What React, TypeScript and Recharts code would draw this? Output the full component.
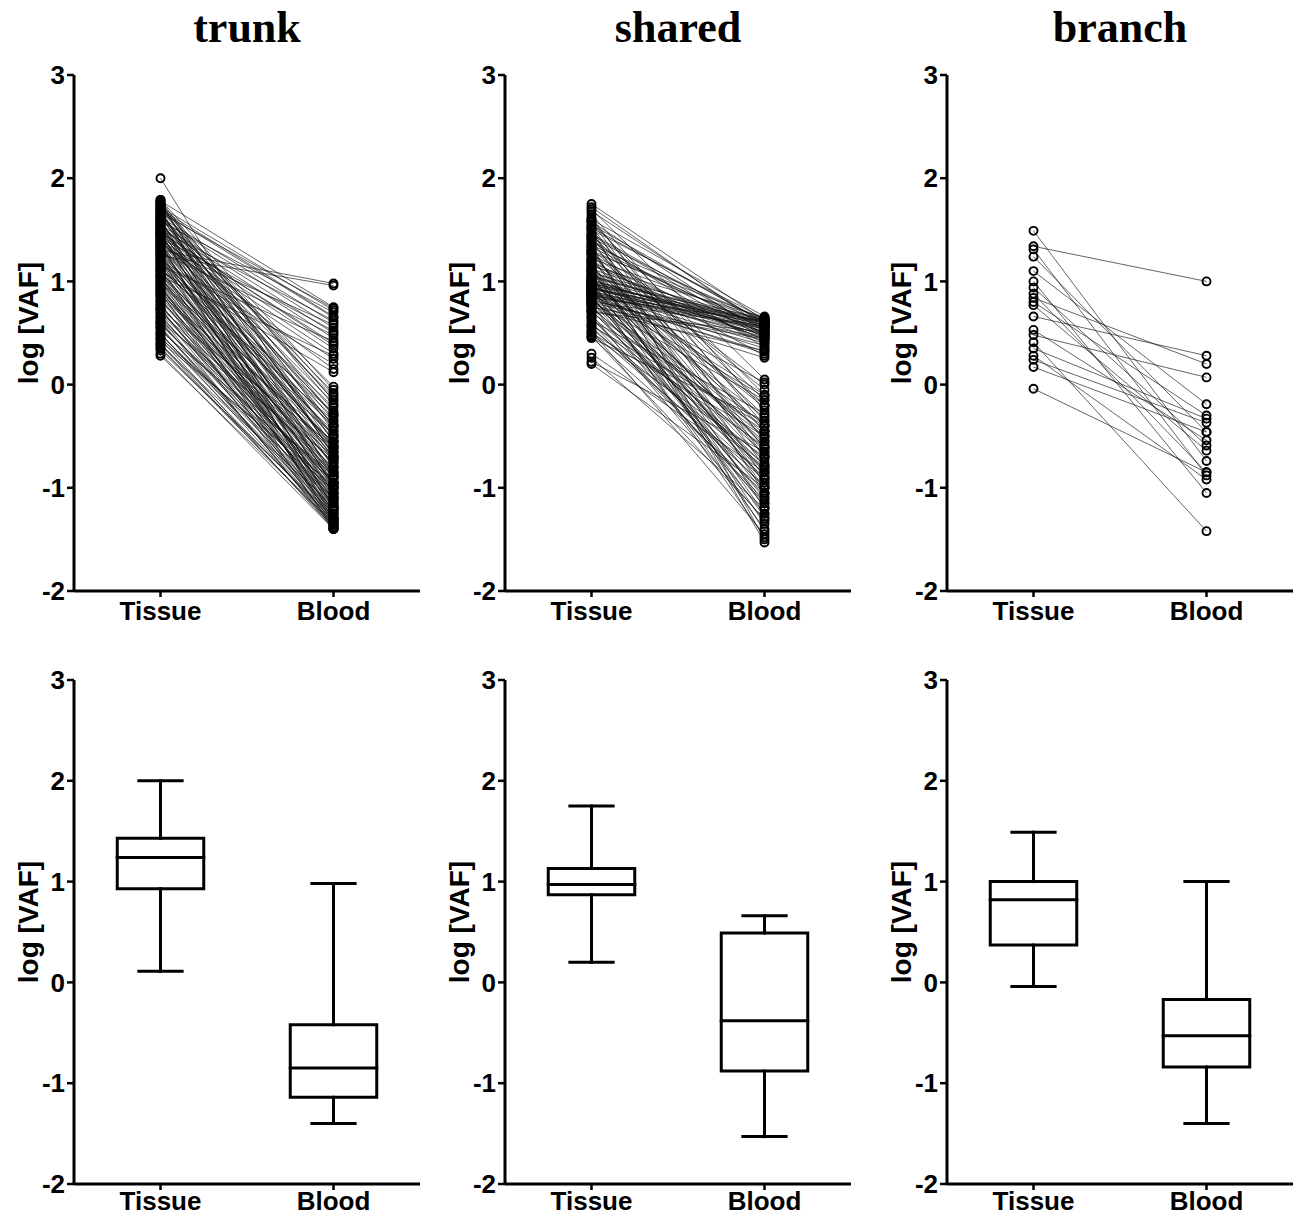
import { ComposedChart, Line, XAxis, YAxis } from 'recharts';

const GROUPS = ['Tissue', 'Blood'];
const PANEL_TITLES = ['trunk', 'shared', 'branch'];
const Y_TICKS = [-2, -1, 0, 1, 2, 3];

// paired log[VAF] values, tissue[i] -> blood[i]
const trunkTissue = [
  1.30, 1.25, 1.78, 1.72, 1.70, 1.66, 1.62, 1.60, 1.58, 1.55, 1.52, 1.50, 1.47,
  1.45, 1.42, 1.40, 1.36, 1.33, 1.20, 1.15, 1.10, 1.05, 1.68, 1.48, 1.38, 1.28,
  2.00, 1.79, 1.77, 1.76, 1.74, 1.73, 1.71, 1.69, 1.67, 1.65,
  1.64, 1.63, 1.61, 1.59, 1.57, 1.56, 1.54, 1.53, 1.51, 1.49,
  1.46, 1.44, 1.43, 1.41, 1.39, 1.37, 1.35, 1.34, 1.32, 1.31,
  1.29, 1.27, 1.26, 1.24, 1.22, 1.21, 1.19, 1.18, 1.16, 1.14,
  1.13, 1.11, 1.09, 1.08, 1.06, 1.04, 1.02, 1.00, 0.98, 0.97,
  0.95, 0.93, 0.91, 0.90, 0.88, 0.86, 0.84, 0.82, 0.80, 0.78,
  0.76, 0.74, 0.72, 0.70, 0.68, 0.66, 0.64, 0.62, 0.60, 0.58,
  0.56, 0.54, 0.52, 0.50, 0.48, 0.46, 0.44, 0.42, 0.40, 0.38,
  0.36, 0.33, 0.30, 0.28, 1.58, 1.70, 1.48, 1.62, 1.52, 1.36,
  1.45, 1.23, 1.75, 1.12, 0.99, 0.87, 0.73, 0.61, 1.05, 0.94,
  1.79, 1.76, 1.73, 1.69, 1.66, 1.63, 1.60, 1.57, 1.54, 1.51,
  1.47, 1.44, 1.40, 1.37, 1.33, 1.30, 1.27, 1.24, 1.20, 1.17,
  1.14, 1.10, 1.07, 1.03, 1.00, 0.96, 0.92, 0.89, 0.85, 0.81,
  0.77, 0.73, 0.69, 0.65, 0.59, 0.55, 0.49, 0.45, 0.39, 0.35,
];
const trunkBlood = [
  0.98, 0.96, 0.75, 0.72, 0.66, 0.74, 0.60, 0.55, 0.70, 0.50, 0.45, 0.62, 0.40,
  0.35, 0.52, 0.30, 0.25, 0.58, 0.20, 0.42, 0.12, 0.28, 0.65, 0.38, 0.15, 0.48,
  -0.70, -0.05, -0.20, -0.45, -0.10, -0.60, -0.30, -0.15, -0.80, -0.35,
  -0.08, -0.55, -0.25, -0.95, -0.40, -0.12, -0.65, -0.50, -0.18, -0.75,
  -0.28, -1.05, -0.42, -0.62, -0.22, -0.85, -0.48, -1.12, -0.32, -0.70,
  -0.58, -0.90, -0.38, -1.00, -0.52, -0.78, -0.27, -1.15, -0.66, -0.88,
  -0.45, -1.20, -0.72, -0.95, -0.56, -1.08, -0.82, -1.25, -0.62, -0.98,
  -1.30, -0.76, -1.10, -0.90, -1.18, -0.70, -1.32, -1.02, -0.85, -1.22,
  -0.95, -1.35, -1.12, -0.80, -1.28, -1.05, -0.92, -1.38, -1.15, -1.00,
  -1.30, -1.20, -0.88, -1.35, -1.10, -1.25, -1.40, -0.98, -1.32, -1.18,
  -1.36, -1.28, -1.40, -1.34, -1.25, -1.00, -1.30, -0.02, -1.18, -1.38,
  -0.85, -1.33, -0.68, -0.35, -0.48, -0.55, -0.60, -0.72, -1.40, -1.05,
  -0.55, -0.90, -0.15, -1.10, -0.40, -0.72, -1.20, -0.30, -0.98, -0.62,
  -1.28, -0.50, -0.80, -1.35, -0.60, -0.95, -1.18, -0.70, -1.05, -0.40,
  -1.30, -0.85, -1.12, -0.65, -0.95, -1.22, -0.88, -1.38, -1.00, -0.75,
  -1.15, -1.25, -0.95, -1.40, -1.08, -1.33, -1.22, -1.02, -1.38, -1.30,
];

const sharedTissue = [
  1.75, 1.72, 1.60, 1.58, 1.55, 1.50, 1.46, 1.42, 1.38, 1.35,
  1.30, 1.26, 1.22, 1.18, 1.15, 1.12, 1.10, 1.08, 1.06, 1.04,
  1.02, 1.00, 0.99, 0.98, 0.97, 0.96, 0.95, 0.94, 0.93, 0.92,
  0.91, 0.90, 0.89, 0.88, 0.87, 0.86, 0.85, 0.84, 0.82, 0.80,
  0.78, 0.75, 0.72, 0.70, 1.20, 1.40,
  1.68, 1.52, 1.45, 1.33, 1.28, 1.16, 1.05, 1.01, 0.98, 0.95,
  0.93, 0.90, 0.87, 0.83, 0.79,
  1.70, 1.65, 1.62, 1.57, 1.54, 1.50, 1.48, 1.45, 1.43, 1.40,
  1.37, 1.33, 1.31, 1.28, 1.25, 1.23, 1.20, 1.17, 1.14, 1.13,
  1.11, 1.09, 1.07, 1.05, 1.03, 1.01, 1.00, 0.99, 0.97, 0.96,
  0.94, 0.92, 0.91, 0.89, 0.88, 0.86, 0.84, 0.83, 0.81, 0.79,
  0.77, 0.76, 0.74, 0.72, 0.70, 0.68, 0.66, 0.64, 0.62, 0.60,
  0.58, 0.56, 0.54, 0.52, 0.50, 0.48, 0.46, 0.45, 0.30, 0.26,
  0.22, 0.20, 1.35, 1.52, 1.18, 0.95, 1.60, 1.27, 1.10, 0.80,
  0.90,
  1.58, 1.42, 1.30, 1.21, 1.12, 1.04, 0.97, 0.92, 0.85, 0.78,
  0.71, 0.65, 0.57, 0.51, 0.47,
];
const sharedBlood = [
  0.62, 0.55, 0.66, 0.48, 0.60, 0.64, 0.52, 0.58, 0.45, 0.63,
  0.56, 0.40, 0.61, 0.50, 0.65, 0.57, 0.44, 0.62, 0.53, 0.59,
  0.47, 0.64, 0.55, 0.60, 0.50, 0.63, 0.42, 0.58, 0.52, 0.61,
  0.46, 0.56, 0.35, 0.60, 0.49, 0.54, 0.30, 0.62, 0.38, 0.57,
  0.26, 0.44, 0.33, 0.51, 0.28, 0.36,
  0.58, 0.61, 0.47, 0.54, 0.64, 0.43, 0.60, 0.51, 0.57, 0.48,
  0.62, 0.40, 0.55, 0.32, 0.45,
  0.05, -0.25, -0.55, -0.10, -0.80, -0.35, -1.05, -0.15, -0.62, -0.90,
  -0.45, -1.20, -0.05, -0.70, -0.30, -1.00, -0.52, -0.85, -1.35, -0.20,
  -0.65, -0.95, -0.40, -1.15, -0.75, -0.58, -1.28, -0.32, -0.88, -1.05,
  -0.48, -1.40, -0.68, -0.92, -0.12, -1.18, -0.78, -0.55, -1.08, -0.38,
  -1.25, -0.82, -0.62, -1.00, -0.45, -1.32, -0.72, -0.90, -0.28, -1.12,
  -0.60, -0.98, -0.80, -1.45, -0.50, -0.70, -1.05, -0.35, -0.85, -1.20,
  -0.65, -1.00, -1.53, -1.50, -1.42, -1.48, -0.40, 0.00, -0.22, -0.15,
  0.02,
  -0.70, -0.20, -0.95, -0.45, -1.25, -0.60, -0.10, -0.85, -1.10, -0.50,
  -0.78, -1.15, -0.40, -0.92, -1.30,
];

const branchTissue = [
  1.49, 1.34, 1.31, 1.24, 1.10, 1.00, 0.94, 0.88, 0.84, 0.80,
  0.77, 0.66, 0.53, 0.48, 0.41, 0.35, 0.28, 0.24, 0.17, -0.04,
];
const branchBlood = [
  -0.74, 1.00, -0.88, -0.46, -0.19, -1.05, -0.59, -0.85, 0.20, -0.30,
  -0.64, 0.28, -0.54, 0.07, -1.42, -0.33, -0.92, -0.37, -0.46, -0.85,
];

// min, Q1, median, Q3, max
const trunkTissueBox = [0.11, 0.93, 1.24, 1.43, 2.0];
const trunkBloodBox = [-1.4, -1.14, -0.85, -0.42, 0.98];
const sharedTissueBox = [0.2, 0.87, 0.97, 1.13, 1.75];
const sharedBloodBox = [-1.53, -0.88, -0.38, 0.49, 0.66];
const branchTissueBox = [-0.04, 0.37, 0.82, 1.0, 1.49];
const branchBloodBox = [-1.4, -0.84, -0.53, -0.17, 1.0];

const AXIS_X = [74, 505, 947];
const Y_AXIS_W = 74;
const PLOT_W = 346;
const BOX_HALF = 0.25;
const CAP_HALF = 0.125;

const FONT = 'Arial, "Liberation Sans", Helvetica, sans-serif';
const tickStyle = { fill: '#000', fontSize: 26, fontWeight: 700, fontFamily: FONT };

const YTitle = ({ viewBox }: any) => {
  const cx = viewBox.x + 28;
  const cy = viewBox.y + viewBox.height / 2 - 10;
  return (
    <text
      x={cx}
      y={cy}
      dy="0.36em"
      transform={`rotate(-90, ${cx}, ${cy})`}
      textAnchor="middle"
      fill="#000"
      fontSize={28}
      fontWeight={700}
      fontFamily={FONT}
    >
      log [VAF]
    </text>
  );
};

function axes(xAxisHeight: number, tickMargin: number) {
  return [
    <XAxis
      key="x"
      type="number"
      dataKey="x"
      domain={[0.5, 2.5]}
      ticks={[1, 2]}
      tickFormatter={(v: number) => GROUPS[v - 1]}
      height={xAxisHeight}
      axisLine={{ stroke: '#000', strokeWidth: 3 }}
      tickLine={{ stroke: '#000', strokeWidth: 2.5 }}
      tickSize={6}
      tickMargin={tickMargin}
      tick={tickStyle}
    />,
    <YAxis
      key="y"
      type="number"
      domain={[-2, 3]}
      ticks={Y_TICKS}
      width={Y_AXIS_W}
      axisLine={{ stroke: '#000', strokeWidth: 3 }}
      tickLine={{ stroke: '#000', strokeWidth: 2.5 }}
      tickSize={7}
      tickMargin={2}
      tick={tickStyle}
      label={{ content: YTitle }}
    />,
  ];
}

function PairedPanel({ col, tissue, blood }: { col: number; tissue: number[]; blood: number[] }) {
  return (
    <div style={{ position: 'absolute', left: AXIS_X[col] - Y_AXIS_W, top: 55 }}>
      <ComposedChart
        width={Y_AXIS_W + PLOT_W}
        height={576}
        margin={{ top: 20, right: 0, bottom: 0, left: 0 }}
      >
        {axes(40, 5)}
        {tissue.map((t, i) => (
          <Line
            key={i}
            data={[
              { x: 1, y: t },
              { x: 2, y: blood[i] },
            ]}
            dataKey="y"
            type="linear"
            stroke="#111"
            strokeWidth={0.65}
            dot={{ r: 4, stroke: '#000', strokeWidth: 1.9, fill: 'none' }}
            activeDot={false}
            isAnimationActive={false}
          />
        ))}
      </ComposedChart>
    </div>
  );
}

function boxLines(center: number, stats: number[]) {
  const [min, q1, med, q3, max] = stats;
  const l = center - BOX_HALF;
  const r = center + BOX_HALF;
  const parts = [
    [
      { x: l, y: q1 },
      { x: r, y: q1 },
      { x: r, y: q3 },
      { x: l, y: q3 },
      { x: l, y: q1 },
    ],
    [
      { x: l, y: med },
      { x: r, y: med },
    ],
    [
      { x: center, y: q3 },
      { x: center, y: max },
    ],
    [
      { x: center - CAP_HALF, y: max },
      { x: center + CAP_HALF, y: max },
    ],
    [
      { x: center, y: q1 },
      { x: center, y: min },
    ],
    [
      { x: center - CAP_HALF, y: min },
      { x: center + CAP_HALF, y: min },
    ],
  ];
  return parts.map((d, i) => (
    <Line
      key={`${center}-${i}`}
      data={d}
      dataKey="y"
      type="linear"
      stroke="#000"
      strokeWidth={3}
      strokeLinecap="square"
      dot={false}
      activeDot={false}
      isAnimationActive={false}
    />
  ));
}

function BoxPanel({ col, tissue, blood }: { col: number; tissue: number[]; blood: number[] }) {
  return (
    <div style={{ position: 'absolute', left: AXIS_X[col] - Y_AXIS_W, top: 660 }}>
      <ComposedChart
        width={Y_AXIS_W + PLOT_W}
        height={555}
        margin={{ top: 20, right: 0, bottom: 0, left: 0 }}
      >
        {axes(31, 2)}
        {boxLines(1, tissue)}
        {boxLines(2, blood)}
      </ComposedChart>
    </div>
  );
}

export default function App() {
  return (
    <div
      style={{
        position: 'absolute',
        left: 0,
        top: 0,
        width: 1293,
        height: 1215,
        background: '#fff',
        overflow: 'hidden',
      }}
    >
      {PANEL_TITLES.map((t, c) => (
        <div
          key={t}
          style={{
            position: 'absolute',
            left: AXIS_X[c],
            width: PLOT_W,
            top: 6,
            textAlign: 'center',
            fontFamily: '"Times New Roman", "Liberation Serif", serif',
            fontWeight: 700,
            fontSize: 44,
            lineHeight: '44px',
          }}
        >
          {t}
        </div>
      ))}
      <PairedPanel col={0} tissue={trunkTissue} blood={trunkBlood} />
      <PairedPanel col={1} tissue={sharedTissue} blood={sharedBlood} />
      <PairedPanel col={2} tissue={branchTissue} blood={branchBlood} />
      <BoxPanel col={0} tissue={trunkTissueBox} blood={trunkBloodBox} />
      <BoxPanel col={1} tissue={sharedTissueBox} blood={sharedBloodBox} />
      <BoxPanel col={2} tissue={branchTissueBox} blood={branchBloodBox} />
    </div>
  );
}
